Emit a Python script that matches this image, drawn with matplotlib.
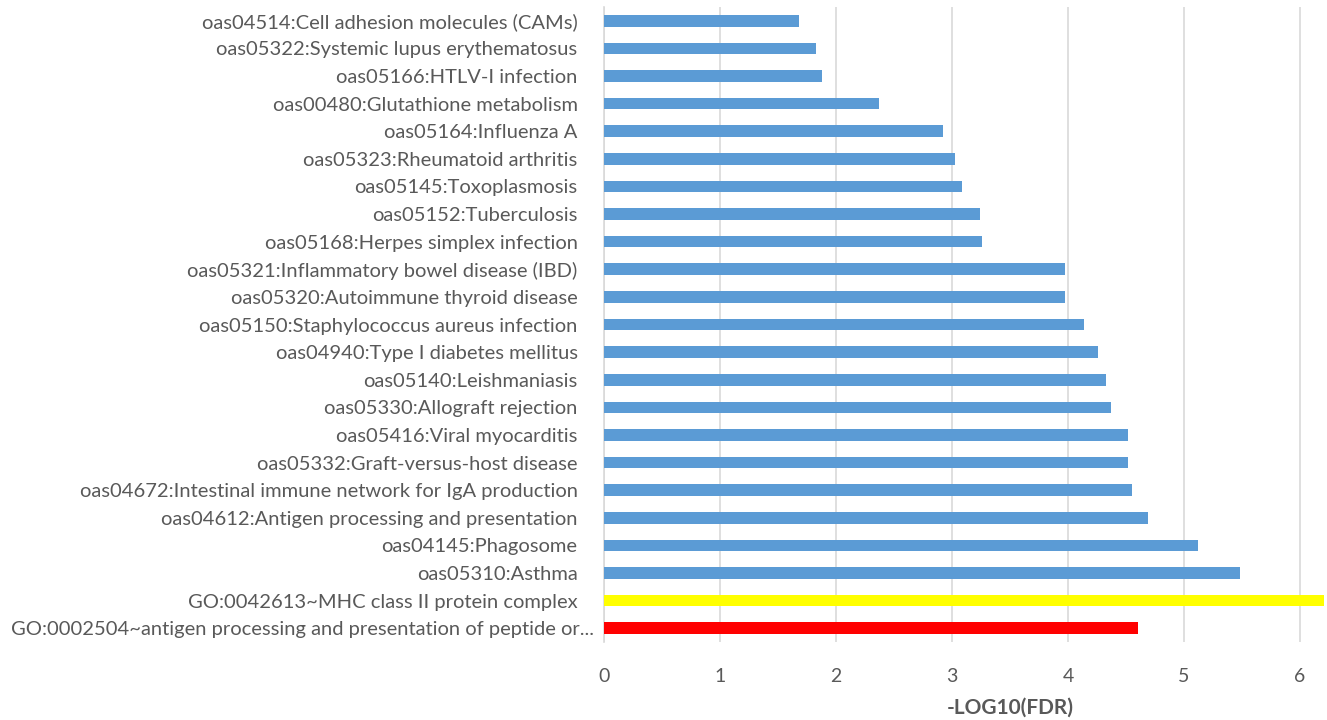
import matplotlib
matplotlib.use("Agg")
import matplotlib.pyplot as plt

# Enriched terms, listed top to bottom
terms = [
    "oas04514:Cell adhesion molecules (CAMs)",
    "oas05322:Systemic lupus erythematosus",
    "oas05166:HTLV-I infection",
    "oas00480:Glutathione metabolism",
    "oas05164:Influenza A",
    "oas05323:Rheumatoid arthritis",
    "oas05145:Toxoplasmosis",
    "oas05152:Tuberculosis",
    "oas05168:Herpes simplex infection",
    "oas05321:Inflammatory bowel disease (IBD)",
    "oas05320:Autoimmune thyroid disease",
    "oas05150:Staphylococcus aureus infection",
    "oas04940:Type I diabetes mellitus",
    "oas05140:Leishmaniasis",
    "oas05330:Allograft rejection",
    "oas05416:Viral myocarditis",
    "oas05332:Graft-versus-host disease",
    "oas04672:Intestinal immune network for IgA production",
    "oas04612:Antigen processing and presentation",
    "oas04145:Phagosome",
    "oas05310:Asthma",
    "GO:0042613~MHC class II protein complex",
    "GO:0002504~antigen processing and presentation of peptide or...",
]
neg_log10_fdr = [1.68, 1.83, 1.88, 2.37, 2.92, 3.03, 3.09, 3.24, 3.26,
                 3.97, 3.97, 4.14, 4.26, 4.33, 4.37, 4.52, 4.52, 4.55,
                 4.69, 5.12, 5.48, 6.21, 4.60]
bar_colors = ["#5B9BD5"] * 21 + ["#FFFF00", "#FF0000"]
x_ticks = [0, 1, 2, 3, 4, 5, 6]

plt.rcParams["font.family"] = ["Lato", "DejaVu Sans"]

fig = plt.figure(figsize=(13.27, 7.2), dpi=100)
# axes runs past the right edge of the canvas (scale goes on to 7)
left, right = 604 / 1327, 1416 / 1327
bottom, top = 1 - 642 / 720, 1 - 7 / 720
ax = fig.add_axes([left, bottom, right - left, top - bottom])

y = list(range(len(terms)))
ax.barh(y, neg_log10_fdr, height=0.42, color=bar_colors, zorder=3)

ax.set_ylim(len(terms) - 0.5, -0.5)
ax.set_xlim(0, 7)
ax.set_xticks(x_ticks)
ax.set_yticks(y)
ax.set_yticklabels(terms, fontsize=14.5, color="#595959")
ax.tick_params(axis="y", length=0, pad=19)
ax.tick_params(axis="x", length=0, pad=19, labelsize=14, labelcolor="#595959")
# the truncated last label sits closer to the axis
ax.yaxis.get_major_ticks()[-1].set_pad(7)

# vertical gridlines, including the one at 7 beyond the canvas edge
ax.grid(axis="x", color="#D9D9D9", linewidth=1.2, zorder=0)
for s in ["top", "right", "bottom"]:
    ax.spines[s].set_visible(False)
ax.spines["left"].set_color("#D9D9D9")
ax.spines["left"].set_linewidth(1.2)

ax.set_xlabel("-LOG10(FDR)", fontsize=15, fontweight="bold", color="#595959",
              labelpad=9)

fig.savefig("out.png", dpi=100, facecolor="white")
